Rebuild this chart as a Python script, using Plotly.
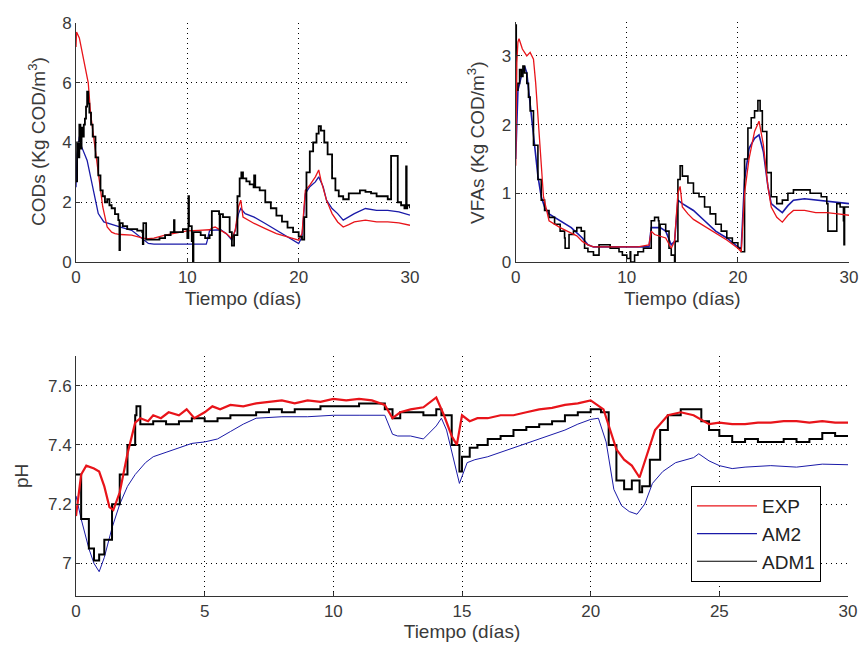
import plotly.graph_objects as go

# ---------------- CODs (top-left) ----------------
cod_exp_t = [0, 0.05, 0.3, 0.6, 0.9, 1.0, 1.1, 1.3, 1.6, 2.0,
             2.4, 2.8, 3.2, 3.5, 4, 5, 6, 6.5, 7, 8,
             9, 10, 11, 12, 12.3, 12.5, 13, 13.5, 14, 14.3,
             14.6, 14.8, 15, 15.5, 16, 17, 18, 19, 20, 20.3,
             20.6, 21, 21.5, 21.8, 22, 22.5, 23, 23.5, 24, 24.5,
             25, 26, 27, 28, 29, 30]
cod_exp_v = [7.2, 7.7, 7.5, 6.9, 6.3, 6.2, 6.0, 5.0, 4.1, 2.85,
             1.85, 1.17, 1.0, 0.95, 0.92, 0.9, 0.8, 0.78, 0.8, 0.9,
             0.97, 1.04, 1.06, 1.08, 1.15, 1.17, 1.06, 0.95, 0.78, 1.06,
             1.85, 2.07, 1.5, 1.4, 1.29, 1.12, 0.95, 0.84, 0.73, 0.95,
             2.4, 2.57, 2.85, 3.08, 2.74, 2.07, 1.62, 1.34, 1.17, 1.25,
             1.34, 1.4, 1.34, 1.34, 1.31, 1.23]

cod_am2_t = [0, 0.1, 0.3, 0.5, 1.0, 1.5, 2.0, 2.5, 3, 4,
             5, 6, 6.5, 7, 8, 9, 10, 11, 11.7, 11.8,
             12, 13, 13.5, 14, 14.3, 14.6, 14.8, 15.2, 16, 17,
             18, 19, 20, 20.3, 20.6, 21, 21.5, 21.8, 22.2, 22.5,
             23, 23.5, 24, 25, 26, 27, 28, 29, 30]
cod_am2_v = [2.5, 3.6, 4.2, 3.86, 3.4, 2.5, 1.62, 1.34, 1.29, 1.17,
             1.06, 0.78, 0.62, 0.6, 0.6, 0.6, 0.6, 0.6, 0.6, 0.73,
             1.06, 1.08, 0.95, 0.73, 1.06, 1.62, 1.79, 1.62, 1.5, 1.29,
             1.06, 0.84, 0.62, 0.84, 2.29, 2.52, 2.68, 2.85, 2.52, 2.07,
             1.79, 1.62, 1.4, 1.62, 1.79, 1.73, 1.73, 1.68, 1.57]

cod_adm1_t = [0, 0.1, 0.2, 0.3, 0.4, 0.5, 0.6, 0.7, 0.8, 0.9,
              1.0, 1.1, 1.2, 1.35, 1.5, 1.75, 2.0, 2.2, 2.4, 2.6,
              2.8, 3.0, 3.2, 3.5, 3.8, 3.9, 3.95, 4.2, 4.6, 5.0,
              5.5, 5.95, 6.0, 6.05, 6.3, 7.0, 7.5, 8.0, 8.5, 8.8,
              8.85, 9.2, 9.6, 10.0, 10.1, 10.15, 10.4, 10.5, 10.55, 10.8,
              11.2, 11.6, 12.0, 12.2, 12.5, 12.85, 12.9, 12.95, 13.2, 13.5,
              13.8, 14.0, 14.2, 14.5, 14.7, 14.85, 15.0, 15.3, 15.6, 15.95,
              16.0, 16.1, 16.5, 17.0, 17.5, 18.0, 18.5, 19.0, 19.5, 20.0,
              20.3, 20.5, 20.7, 21.0, 21.3, 21.6, 21.8, 22.0, 22.3, 22.6,
              23.0, 23.3, 23.6, 24.0, 24.5, 25.0, 25.5, 26.0, 26.5, 27.0,
              27.5, 28.0, 28.3, 28.9, 29.2, 29.5, 29.65, 29.7, 29.75, 30.0]
cod_adm1_v = [2.7, 4.0, 3.5, 4.6, 3.8, 4.5, 4.2, 4.6, 4.8, 5.2,
              5.7, 5.3, 5.0, 4.6, 4.2, 3.5, 2.9, 2.4, 2.2, 2.0,
              2.1, 1.9, 1.8, 1.6, 1.4, 0.4, 1.3, 1.2, 1.1, 1.1,
              1.05, 1.0, 0.6, 1.3, 0.75, 0.75, 0.8, 0.9, 1.0, 1.4,
              1.0, 1.0, 1.1, 0.8, 2.2, 1.2, 0.7, 0.0, 1.0, 1.0,
              0.9, 0.8, 0.9, 1.7, 1.7, 1.6, 0.0, 1.6, 1.5, 1.5,
              1.0, 0.55, 0.9, 2.2, 2.8, 3.0, 2.8, 2.7, 2.6, 2.5,
              2.9, 2.5, 2.4, 2.0, 1.8, 1.55, 1.35, 1.15, 1.0, 0.85,
              0.75, 1.5, 3.0, 3.7, 4.0, 4.3, 4.55, 4.4, 4.0, 3.6,
              2.8, 2.4, 2.2, 2.1, 2.3, 2.3, 2.4, 2.35, 2.3, 2.2,
              2.2, 2.1, 3.55, 2.0, 1.9, 1.8, 3.2, 1.8, 1.9, 1.8]

# ---------------- VFAs (top-right) ----------------
vfa_exp_t = [0, 0.1, 0.2, 0.3, 0.6, 1.0, 1.3, 1.6, 1.8, 2.0,
             2.3, 2.5, 3, 3.5, 4, 5, 5.5, 6, 6.5, 7,
             8, 9, 10, 11, 12, 12.2, 12.5, 13, 13.5, 14,
             14.3, 14.6, 14.8, 15, 15.5, 16, 17, 18, 19, 20,
             20.3, 20.6, 21, 21.5, 21.9, 22.3, 22.7, 23, 23.5, 24,
             24.5, 25, 26, 27, 28, 29, 30]
vfa_exp_v = [1.4, 2.9, 3.2, 3.25, 3.1, 3.0, 3.05, 2.95, 2.6, 2.1,
             1.3, 0.95, 0.6, 0.55, 0.5, 0.42, 0.38, 0.3, 0.25, 0.22,
             0.22, 0.22, 0.22, 0.22, 0.25, 0.45, 0.4, 0.38, 0.35, 0.2,
             0.3, 1.0, 1.1, 0.8, 0.7, 0.62, 0.52, 0.42, 0.32, 0.2,
             0.15, 1.0, 1.5, 1.9, 2.05, 1.7, 1.1, 0.8, 0.65, 0.58,
             0.68, 0.75, 0.75, 0.72, 0.72, 0.7, 0.68]

vfa_am2_t = [0, 0.2, 0.5, 0.8, 1.0, 1.3, 1.6, 2.0, 2.3, 2.6,
             3, 4, 5, 6, 6.5, 7, 8, 9, 10, 11,
             12, 12.2, 13, 13.5, 14, 14.3, 14.6, 15, 16, 17,
             18, 19, 20, 20.3, 20.6, 21, 21.5, 21.9, 22.3, 22.7,
             23, 23.5, 24, 24.5, 25, 26, 27, 28, 29, 30]
vfa_am2_v = [1.5, 2.5, 2.7, 2.85, 2.75, 2.3, 1.8, 1.25, 0.95, 0.8,
             0.7, 0.6, 0.5, 0.35, 0.25, 0.22, 0.22, 0.22, 0.22, 0.22,
             0.22, 0.5, 0.5, 0.45, 0.25, 0.3, 0.9, 0.85, 0.75, 0.6,
             0.45, 0.35, 0.22, 0.2, 1.2, 1.65, 1.8, 1.85, 1.6, 1.1,
             0.85, 0.78, 0.72, 0.82, 0.9, 0.92, 0.9, 0.88, 0.87, 0.85]

vfa_adm1_t = [0, 0.05, 0.2, 0.35, 0.5, 0.65, 0.8, 1.0, 1.15, 1.3,
              1.6, 2.0, 2.3, 2.6, 3.0, 3.5, 4.0, 4.4, 4.45, 4.8,
              5.2, 5.5, 5.9, 6.2, 6.5, 7.0, 7.5, 8.0, 8.5, 9.0,
              9.3, 9.6, 10.0, 10.3, 10.35, 10.7, 11.0, 11.5, 12.0, 12.2,
              12.5, 12.85, 12.9, 13.0, 13.5, 13.8, 14.0, 14.3, 14.35, 14.6,
              14.8, 15.0, 15.5, 16.0, 16.5, 17.0, 17.5, 18.0, 18.5, 19.0,
              19.5, 20.0, 20.3, 20.6, 20.9, 21.2, 21.5, 21.8, 22.0, 22.2,
              22.6, 23.0, 23.5, 24.0, 24.5, 25.0, 25.5, 26.0, 26.5, 27.0,
              27.5, 28.0, 28.1, 28.9, 29.2, 29.5, 29.55, 29.6, 30.0]
vfa_adm1_v = [3.45, 2.5, 2.6, 2.8, 2.7, 2.85, 2.75, 2.6, 2.4, 2.2,
              1.7, 1.2, 0.9, 0.75, 0.65, 0.55, 0.45, 0.35, 0.2, 0.4,
              0.45, 0.5, 0.45, 0.2, 0.15, 0.1, 0.25, 0.25, 0.2, 0.2,
              0.15, 0.1, 0.05, 0.15, 0.0, 0.1, 0.15, 0.2, 0.2, 0.6,
              0.65, 0.6, 0.0, 0.55, 0.45, 0.2, 0.1, 0.0, 0.3, 1.2,
              1.4, 1.25, 1.15, 1.0, 0.95, 0.8, 0.7, 0.55, 0.45, 0.35,
              0.28, 0.2, 0.15, 1.5, 1.95, 2.1, 2.2, 2.35, 2.2, 1.9,
              1.3, 0.95, 0.85, 0.9, 1.0, 1.05, 1.05, 1.05, 1.0, 1.0,
              0.95, 0.85, 0.45, 0.85, 0.8, 0.6, 0.25, 0.8, 0.8]

# ---------------- pH (bottom) ----------------
ph_exp_t = [0, 0.2, 0.4, 0.7, 0.9, 1.1, 1.3, 1.45, 1.7, 2.0,
            2.3, 2.5, 2.8, 3.0, 3.3, 3.6, 4.0, 4.3, 4.6, 5.0,
            5.3, 5.6, 6.0, 6.5, 7.0, 7.5, 8.0, 8.5, 9.0, 9.5,
            10.0, 10.5, 11.0, 11.5, 12.0, 12.3, 12.6, 13.0, 13.5, 14.0,
            14.3, 14.6, 14.8, 15.0, 15.3, 15.6, 16.0, 16.5, 17.0, 17.5,
            18.0, 18.5, 19.0, 19.5, 20.0, 20.5, 20.8, 21.0, 21.3, 21.6,
            21.9, 22.2, 22.5, 23.0, 23.5, 24.0, 24.3, 24.6, 25.0, 25.5,
            26.0, 26.5, 27.0, 27.5, 28.0, 28.5, 29.0, 29.5, 30.0]
ph_exp_v = [7.16, 7.30, 7.33, 7.32, 7.31, 7.26, 7.19, 7.18, 7.24, 7.37,
            7.475, 7.49, 7.48, 7.50, 7.49, 7.51, 7.50, 7.52, 7.49, 7.51,
            7.53, 7.52, 7.535, 7.53, 7.54, 7.545, 7.55, 7.54, 7.55, 7.545,
            7.555, 7.55, 7.555, 7.55, 7.535, 7.49, 7.51, 7.52, 7.527, 7.56,
            7.50, 7.43, 7.40, 7.50, 7.48, 7.49, 7.49, 7.50, 7.50, 7.51,
            7.52, 7.525, 7.535, 7.54, 7.55, 7.52, 7.44, 7.385, 7.35, 7.33,
            7.29, 7.37, 7.45, 7.50, 7.51, 7.50, 7.485, 7.47, 7.475, 7.47,
            7.47, 7.475, 7.475, 7.48, 7.48, 7.475, 7.48, 7.475, 7.475]

ph_am2_t = [0, 0.2, 0.5, 0.7, 0.9, 1.1, 1.4, 1.7, 2.0, 2.3,
            2.7, 3.0, 3.5, 4.0, 4.5, 5.0, 5.5, 6.0, 6.5, 7.0,
            8.0, 9.0, 10.0, 11.0, 12.0, 12.3, 12.5, 13.0, 13.5, 14.0,
            14.2, 14.4, 14.6, 14.9, 15.2, 15.5, 16.0, 17.0, 18.0, 19.0,
            19.5, 20.0, 20.3, 20.6, 20.9, 21.2, 21.5, 21.8, 22.1, 22.4,
            22.8, 23.3, 24.0, 24.2, 24.6, 25.0, 25.5, 26.0, 27.0, 28.0,
            29.0, 30.0]
ph_am2_v = [7.228, 7.15, 7.05, 7.0, 6.972, 7.02, 7.12, 7.2, 7.26, 7.3,
            7.34, 7.36, 7.375, 7.39, 7.405, 7.41, 7.42, 7.445, 7.47, 7.49,
            7.495, 7.495, 7.5, 7.5, 7.5, 7.436, 7.43, 7.43, 7.42, 7.464,
            7.49, 7.45, 7.38, 7.27, 7.34, 7.35, 7.36, 7.39, 7.42, 7.45,
            7.47, 7.486, 7.49, 7.41, 7.25, 7.195, 7.175, 7.166, 7.2, 7.27,
            7.31, 7.34, 7.357, 7.37, 7.346, 7.33, 7.32, 7.325, 7.33, 7.325,
            7.335, 7.333]

ph_adm1_t = [0, 0.2, 0.5, 0.7, 0.9, 1.1, 1.4, 1.7, 2.0, 2.3,
             2.35, 2.5, 3.0, 3.5, 4.0, 4.5, 5.0, 5.5, 6.0, 6.5,
             7.0, 7.5, 8.0, 8.5, 9.0, 9.5, 10.0, 10.5, 11.0, 11.5,
             12.0, 12.3, 12.6, 13.0, 13.5, 14.0, 14.2, 14.6, 14.9, 15.0,
             15.3, 15.6, 16.0, 16.5, 17.0, 17.5, 18.0, 18.5, 19.0, 19.5,
             20.0, 20.4, 20.7, 21.0, 21.3, 21.6, 21.9, 22.0, 22.3, 22.7,
             23.0, 23.5, 24.0, 24.3, 24.6, 25.0, 25.5, 26.0, 26.5, 27.0,
             27.5, 28.0, 28.5, 29.0, 29.5, 30.0]
ph_adm1_v = [7.3, 7.15, 7.05, 7.01, 7.03, 7.08, 7.2, 7.3, 7.4, 7.5,
             7.53, 7.47, 7.48, 7.47, 7.48, 7.49, 7.48, 7.49, 7.5, 7.5,
             7.51, 7.52, 7.51, 7.52, 7.52, 7.53, 7.53, 7.53, 7.54, 7.54,
             7.52, 7.49, 7.51, 7.51, 7.5, 7.52, 7.5, 7.4, 7.31, 7.36,
             7.39, 7.4, 7.42, 7.43, 7.45, 7.46, 7.47, 7.48, 7.5, 7.51,
             7.52, 7.51, 7.40, 7.28, 7.25, 7.28, 7.24, 7.26, 7.35, 7.45,
             7.5, 7.52, 7.52, 7.48, 7.45, 7.43, 7.41, 7.42, 7.41, 7.41,
             7.42, 7.41, 7.42, 7.44, 7.43, 7.43]

series_names = ["EXP", "AM2", "ADM1"]
series_colors = ["#e8141a", "#1a1aa8", "#000000"]

for a, b in [(cod_exp_t, cod_exp_v), (cod_am2_t, cod_am2_v), (cod_adm1_t, cod_adm1_v),
             (vfa_exp_t, vfa_exp_v), (vfa_am2_t, vfa_am2_v), (vfa_adm1_t, vfa_adm1_v),
             (ph_exp_t, ph_exp_v), (ph_am2_t, ph_am2_v), (ph_adm1_t, ph_adm1_v)]:
    assert len(a) == len(b)

fig = go.Figure()

def add(t, v, name, color, width, xa, ya, shape="linear"):
    fig.add_trace(go.Scatter(x=t, y=v, mode="lines", name=name,
                             line=dict(color=color, width=width, shape=shape),
                             xaxis=xa, yaxis=ya, showlegend=False))

# top-left
add(cod_am2_t, cod_am2_v, "AM2", series_colors[1], 1.3, "x", "y")
add(cod_exp_t, cod_exp_v, "EXP", series_colors[0], 1.3, "x", "y")
add(cod_adm1_t, cod_adm1_v, "ADM1", series_colors[2], 1.8, "x", "y", "hv")
# top-right
add(vfa_am2_t, vfa_am2_v, "AM2", series_colors[1], 1.6, "x2", "y2")
add(vfa_adm1_t, vfa_adm1_v, "ADM1", series_colors[2], 1.6, "x2", "y2", "hv")
add(vfa_exp_t, vfa_exp_v, "EXP", series_colors[0], 1.3, "x2", "y2")
# bottom
add(ph_am2_t, ph_am2_v, "AM2", series_colors[1], 1, "x3", "y3")
add(ph_adm1_t, ph_adm1_v, "ADM1", series_colors[2], 2, "x3", "y3", "hv")
add(ph_exp_t, ph_exp_v, "EXP", series_colors[0], 2.2, "x3", "y3")

# legend entries (thin sample lines, as in the reference)
for name, color in zip(series_names, series_colors):
    fig.add_trace(go.Scatter(x=[None], y=[None], mode="lines", name=name,
                             line=dict(color=color, width=1.2),
                             xaxis="x3", yaxis="y3", showlegend=True))

W, H = 861, 652
FAM = "Liberation Sans, Arial, sans-serif"
tickfont = dict(family=FAM, size=17, color="#3a3a3a")
titlefont = dict(family=FAM, size=19, color="#3a3a3a")
grid = dict(showgrid=True, gridcolor="#000", gridwidth=1, griddash="1px,4px",
            zeroline=False, showline=True, linecolor="#333", linewidth=1,
            ticks="inside", ticklen=4, tickcolor="#333", tickfont=tickfont,
            automargin=False)

def xd(a, b):
    return [a / W, b / W]

def yd(top, bottom):
    return [(H - bottom) / H, (H - top) / H]

fig.update_layout(
    width=W, height=H, margin=dict(l=0, r=0, t=0, b=0, autoexpand=False),
    paper_bgcolor="white", plot_bgcolor="white", font=titlefont,
    xaxis=dict(domain=xd(76, 410), range=[0, 30], tickvals=[0, 10, 20, 30], anchor="y",
               title=dict(text="Tiempo (días)", font=titlefont, standoff=5), **grid),
    yaxis=dict(domain=yd(23, 262), range=[0, 8], tickvals=[0, 2, 4, 6, 8], anchor="x", **grid),
    xaxis2=dict(domain=xd(515.7, 849), range=[0, 30], tickvals=[0, 10, 20, 30], anchor="y2",
                title=dict(text="Tiempo (días)", font=titlefont, standoff=5), **grid),
    yaxis2=dict(domain=yd(21.5, 262), range=[0, 3.5], tickvals=[0, 1, 2, 3], anchor="x2", **grid),
    xaxis3=dict(domain=xd(76, 848), range=[0, 30], tickvals=[0, 5, 10, 15, 20, 25, 30], anchor="y3",
                title=dict(text="Tiempo (días)", font=titlefont, standoff=4), **grid),
    yaxis3=dict(domain=yd(356, 596), range=[6.89, 7.7], tickvals=[7, 7.2, 7.4, 7.6],
                ticktext=["7", "7.2", "7.4", "7.6"], anchor="x3", **grid),
    legend=dict(x=691 / W, y=(H - 486) / H, xanchor="left", yanchor="top",
                bgcolor="white", bordercolor="#000", borderwidth=1,
                font=dict(family=FAM, size=19, color="#222"),
                traceorder="normal", tracegroupgap=2, itemwidth=60),
)

# y-axis titles placed as in the reference
for text, xpx, ypx in [("CODs (Kg COD/m<sup>3</sup>)", 37, 142),
                       ("VFAs (Kg COD/m<sup>3</sup>)", 476, 143),
                       ("pH", 21, 476)]:
    fig.add_annotation(text=text, textangle=-90, x=xpx / W, y=(H - ypx) / H,
                       xref="paper", yref="paper", xanchor="center", yanchor="middle",
                       showarrow=False, font=titlefont)

fig.write_html("out.html", config={"displayModeBar": False})

# remove the browser's default page margin so the figure sits at (0, 0)
with open("out.html", "r", encoding="utf-8") as f:
    html = f.read()
html = html.replace("<head>", "<head><style>html,body{margin:0;padding:0;overflow:hidden;}</style>", 1)
with open("out.html", "w", encoding="utf-8") as f:
    f.write(html)
